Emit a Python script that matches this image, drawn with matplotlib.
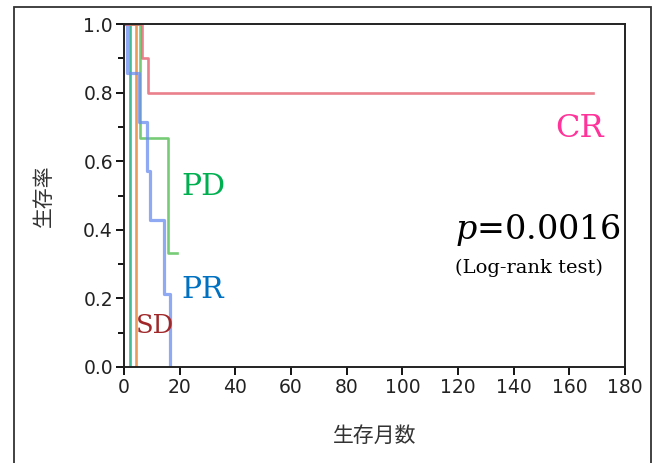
import matplotlib
matplotlib.use("Agg")
import matplotlib.pyplot as plt
from matplotlib.patches import Rectangle

# Kaplan-Meier curves (months, survival)
cr_time = [0, 6.3, 8.7, 168.5]
cr_surv = [1.0, 0.9, 0.8, 0.8]
pr_time = [0, 1.0, 5.4, 8.4, 9.4, 14.3, 16.4]
pr_surv = [1.0, 0.857, 0.714, 0.571, 0.429, 0.214, 0.0]
pd_time = [0, 5.7, 15.9, 19.0]
pd_surv = [1.0, 0.667, 0.333, 0.333]
sd_time = [0, 4.2]
sd_surv = [1.0, 0.0]
ne_time = [0, 2.2]
ne_surv = [1.0, 0.0]

xticks = [0, 20, 40, 60, 80, 100, 120, 140, 160, 180]
yticks = [0.0, 0.2, 0.4, 0.6, 0.8, 1.0]

plt.rcParams['mathtext.fontset'] = 'dejavuserif'
jp = ['Noto Sans CJK JP', 'DejaVu Sans']

fig = plt.figure(figsize=(6.68, 4.63), dpi=100)
ax = fig.add_axes([124/668, 1 - 367/463, (625-124)/668, (367-24)/463])

lw = 1.9
ax.step(ne_time, ne_surv, where='post', color='#2fb38a', lw=lw, alpha=0.9)
ax.step(sd_time, sd_surv, where='post', color='#e8904a', lw=lw, alpha=0.9)
ax.step(pd_time, pd_surv, where='post', color='#55bf55', lw=lw, alpha=0.8)
ax.step(pr_time, pr_surv, where='post', color='#6a8cf0', lw=lw + 0.4, alpha=0.75)
ax.step(cr_time, cr_surv, where='post', color='#e4606e', lw=lw, alpha=0.8)

ax.set_xlim(0, 180)
ax.set_ylim(0, 1.0)
ax.set_xticks(xticks)
ax.set_yticks(yticks)
ax.set_yticklabels([f'{v:.1f}' for v in yticks])
ax.set_yticks([0.1, 0.3, 0.5, 0.7, 0.9], minor=True)
ax.tick_params(axis='both', which='major', direction='out', length=6, width=1.3,
               labelsize=13.5, labelcolor='#222222', pad=2)
ax.tick_params(axis='y', which='minor', direction='out', length=4, width=1.3)
for s in ax.spines.values():
    s.set_linewidth(1.4)
    s.set_color('#222222')

ax.set_xlabel('生存月数', family=jp, fontsize=15, color='#333333', labelpad=20)
ax.set_ylabel('生存率', family=jp, fontsize=15, color='#333333', labelpad=20)

serif = 'DejaVu Serif'
ax.text(154.9, 0.695, 'CR', family=serif, fontsize=23, color='#ff3399', va='center')
ax.text(20.5, 0.525, 'PD', family=serif, fontsize=21.5, color='#00b050', va='center')
ax.text(20.5, 0.224, 'PR', family=serif, fontsize=21.5, color='#0070c0', va='center')
ax.text(4.3, 0.122, 'SD', family=serif, fontsize=18.5, color='#a0282a', va='center')
ax.text(119.0, 0.40, r'$p$=0.0016', family=serif, fontsize=24, color='black', va='center')
ax.text(119.0, 0.29, '(Log-rank test)', family=serif, fontsize=14, color='black', va='center')

# outer frame around the whole chart (open at the bottom)
fig.patches.append(Rectangle((14/668, -0.05), (651-14)/668, 1.05 - 7/463,
                             transform=fig.transFigure, fill=False,
                             edgecolor='#333333', linewidth=1.3))

fig.savefig('out.png', dpi=100)
